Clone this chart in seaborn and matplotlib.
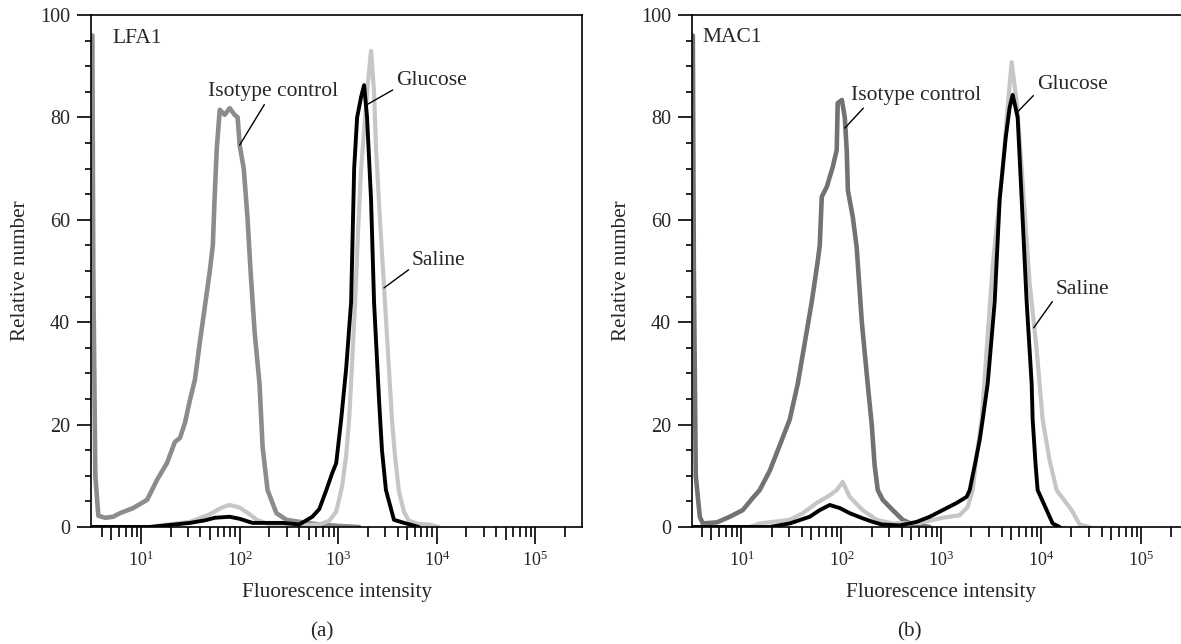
import numpy as np
import pandas as pd
import matplotlib.pyplot as plt
import seaborn as sns
from matplotlib.ticker import FixedLocator, NullFormatter, LogFormatterSciNotation

# -------------------------------------------------
# Flow cytometry histograms
# x = fluorescence intensity, y = relative number
# -------------------------------------------------

# (a) LFA1
lfa_iso_x = [3.2, 3.27, 3.43, 3.68, 4.32, 5.2, 6.1, 8.3, 11.5, 14.5, 18.3, 22.0, 24.8, 27.8,
             31.3, 35.1, 39.4, 44.3, 49.8, 53.4, 55.9, 58.6, 62.8, 70.5, 79.2, 89, 95.4, 100,
             110, 120, 129, 142, 159, 171, 192, 236, 299, 404, 643, 1023, 1629]
lfa_iso_y = [96, 50, 10, 2.2, 1.8, 2.0, 2.7, 3.7, 5.3, 9.2, 12.5, 16.6, 17.4, 20.3,
             24.8, 28.7, 36, 43, 50, 55, 65, 74, 81.5, 80.5, 81.8, 80.5, 80, 74.6,
             70, 60.5, 50, 38, 28, 15.6, 7.2, 2.7, 1.4, 1.0, 0.5, 0.2, 0]

lfa_sal_x = [3.2, 12.3, 15.6, 31.3, 49.8, 65.8, 79.2, 100, 126, 149, 201, 404, 643, 811,
             955, 1097, 1205, 1291, 1384, 1485, 1592, 1708, 1875, 2010, 2154, 2311, 2420,
             2655, 2915, 3273, 3511, 3766, 4130, 4644, 5212, 6578, 8298, 10470]
lfa_sal_y = [0, 0, 0.3, 1.0, 2.5, 3.8, 4.3, 3.8, 2.5, 1.4, 0.5, 0.3, 0.5, 1.2,
             3, 8, 14, 21, 32, 44, 58, 70, 80, 87, 93, 85, 74,
             60, 47, 31, 21, 14, 7, 3, 1.2, 0.6, 0.5, 0]

lfa_glu_x = [3.2, 12.3, 31.3, 44.3, 55.9, 79.2, 100, 135, 179, 272, 404, 546, 643, 757,
             869, 955, 1072, 1205, 1353, 1452, 1556, 1708, 1832, 1963, 2154, 2311, 2594,
             2781, 3053, 3680, 4866, 6578]
lfa_glu_y = [0, 0, 0.8, 1.3, 1.8, 2.0, 1.6, 0.8, 0.8, 0.8, 0.5, 2.0, 3.5, 7.2,
             10.5, 12.5, 21, 31, 44, 70, 80, 84, 86.3, 80, 64, 44, 25,
             15, 7.2, 1.4, 0.7, 0]

# (b) MAC1
mac_iso_x = [3.26, 3.34, 3.49, 3.83, 4.1, 5.66, 7.64, 10.3, 13.0, 15.2, 19.2, 24.2, 30.4,
             36.6, 43.0, 50.5, 58.0, 60.7, 63.6, 71.3, 81.8, 89.7, 91.8, 101, 108, 113, 116,
             130, 142, 160, 183, 201, 215, 231, 259, 326, 410, 516, 764]
mac_iso_y = [96, 50, 10, 2, 0.7, 0.9, 2, 3.3, 5.7, 7.2, 11, 16, 21,
             28, 36, 44, 52, 55, 64.5, 66.4, 70.3, 73.6, 82.8, 83.4, 80, 73.6, 65.8,
             60.5, 54.7, 40, 28, 20, 12, 7.2, 5.3, 3.3, 1.4, 0.5, 0]

mac_sal_x = [3.26, 12.1, 15.2, 30.4, 41.0, 56.6, 76.4, 89.7, 103, 121, 163, 225, 326, 607,
             1030, 1524, 1832, 2056, 2254, 2529, 2838, 3258, 4102, 4603, 5047, 5662, 6357,
             7638, 8974, 10300, 12100, 14220, 20090, 24150, 30410]
mac_sal_y = [0, 0, 0.7, 1.4, 2.7, 4.7, 6.2, 7.2, 8.8, 5.9, 3.3, 1.4, 0.7, 0.8,
             1.8, 2.3, 3.9, 7.2, 14, 21, 34.6, 51, 70, 82, 90.8, 83, 70,
             47.6, 34.6, 21, 13, 7.2, 3.3, 0.5, 0]

mac_glu_x = [3.26, 19.2, 30.4, 48.2, 60.7, 76.4, 96.2, 121, 163, 206, 253, 383, 566, 764,
             1130, 1422, 1790, 1919, 2154, 2417, 2590, 2906, 3413, 3830, 4398, 4822, 5167,
             5798, 6357, 7129, 7998, 8185, 8770, 9184, 11300, 12970, 15240]
mac_glu_y = [0, 0, 0.7, 2, 3.3, 4.3, 3.7, 2.7, 1.7, 1, 0.5, 0.3, 1, 2,
             3.7, 4.7, 5.9, 7.2, 12, 17, 21, 28, 44, 64, 76, 82, 84.4,
             80, 64, 44, 28, 21, 12, 7.2, 3.3, 0.7, 0]

major_x = [10, 100, 1e3, 1e4, 1e5]

# -------------------------------------------------
# Style
# -------------------------------------------------
sns.set_style("ticks")
plt.rcParams['font.family'] = ['Liberation Serif', 'DejaVu Serif']
plt.rcParams['mathtext.fontset'] = 'custom'
plt.rcParams['mathtext.rm'] = 'Liberation Serif'
plt.rcParams['mathtext.it'] = 'Liberation Serif:italic'

W, H = 1181, 644
fig = plt.figure(figsize=(W / 100, H / 100), dpi=100)
ax_a = fig.add_axes([91 / W, (H - 527) / H, 491 / W, 512 / H])
ax_b = fig.add_axes([692 / W, (H - 527) / H, 497 / W, 512 / H])

FS_TICK = 14.5
FS_LAB = 15.2
FS_ANN = 15.5


def draw_panel(ax, iso, sal, glu, iso_color):
    sns.lineplot(x=iso[0], y=iso[1], ax=ax, color=iso_color, lw=3.3,
                 estimator=None, sort=False)
    sns.lineplot(x=sal[0], y=sal[1], ax=ax, color="#c6c6c6", lw=3.0,
                 estimator=None, sort=False)
    sns.lineplot(x=glu[0], y=glu[1], ax=ax, color="black", lw=2.8,
                 estimator=None, sort=False)


def style_axes(ax, xmin, xmax):
    ax.set_xscale("log")
    ax.set_xlim(xmin, xmax)
    ax.set_ylim(0, 100)
    minor = [m * 10.0 ** e for e in range(0, 6) for m in range(2, 10)
             if xmin <= m * 10.0 ** e <= xmax]
    ax.xaxis.set_major_locator(FixedLocator(major_x))
    ax.xaxis.set_major_formatter(LogFormatterSciNotation())
    ax.xaxis.set_minor_locator(FixedLocator(minor))
    ax.xaxis.set_minor_formatter(NullFormatter())
    ax.yaxis.set_major_locator(FixedLocator([0, 20, 40, 60, 80, 100]))
    ax.yaxis.set_minor_locator(FixedLocator([v for v in range(5, 100, 5) if v % 20]))
    ax.tick_params(axis="x", which="major", length=12, width=1.4, labelsize=13, pad=5)
    ax.tick_params(axis="x", which="minor", length=7, width=1.4)
    ax.tick_params(axis="y", which="major", length=10, width=1.4, labelsize=FS_TICK, pad=5)
    ax.tick_params(axis="y", which="minor", length=4, width=1.4)
    # longer ticks at the 5s
    for t, loc in zip(ax.xaxis.get_minor_ticks(len(minor)), minor):
        if str(int(round(loc)))[0] == "5":
            t.tick1line.set_markersize(9.5)
    for s in ax.spines.values():
        s.set_visible(True)
        s.set_linewidth(1.2)
        s.set_color("black")
    ax.set_xlabel("Fluorescence intensity", fontsize=FS_LAB, labelpad=9)
    ax.set_ylabel("Relative number", fontsize=FS_LAB, labelpad=7)


def label(ax, text, xy, xytext, relpos):
    ax.annotate(text, xy=xy, xytext=xytext, ha="left", va="center", fontsize=FS_ANN,
                arrowprops=dict(arrowstyle="-", color="black", lw=1.0,
                                shrinkA=0, shrinkB=0, relpos=relpos))


draw_panel(ax_a, (lfa_iso_x, lfa_iso_y), (lfa_sal_x, lfa_sal_y),
           (lfa_glu_x, lfa_glu_y), "#8c8c8c")
draw_panel(ax_b, (mac_iso_x, mac_iso_y), (mac_sal_x, mac_sal_y),
           (mac_glu_x, mac_glu_y), "#727272")

style_axes(ax_a, 3.1, 2.98e5)
style_axes(ax_b, 3.2, 3.0e5)

ax_a.text(0.043, 0.955, "LFA1", transform=ax_a.transAxes, ha="left", va="center", fontsize=FS_ANN)
ax_b.text(0.022, 0.957, "MAC1", transform=ax_b.transAxes, ha="left", va="center", fontsize=FS_ANN)

label(ax_a, "Isotype control", (100, 74.6), (47.5, 85.0), (0.45, 0))
label(ax_a, "Glucose", (1919, 82.4), (3855, 87.2), (0, 0.1))
label(ax_a, "Saline", (2917, 46.7), (5585, 52.0), (0, 0.15))

label(ax_b, "Isotype control", (108, 77.9), (124, 84.3), (0.12, 0))
label(ax_b, "Glucose", (5666, 80.9), (8974, 86.4), (0, 0.1))
label(ax_b, "Saline", (8375, 38.9), (13900, 46.4), (0, 0.1))

fig.text(322 / W, 1 - 632 / H, "(a)", ha="center", va="center", fontsize=FS_LAB)
fig.text(909 / W, 1 - 632 / H, "(b)", ha="center", va="center", fontsize=FS_LAB)

plt.savefig("out.png", dpi=100)
